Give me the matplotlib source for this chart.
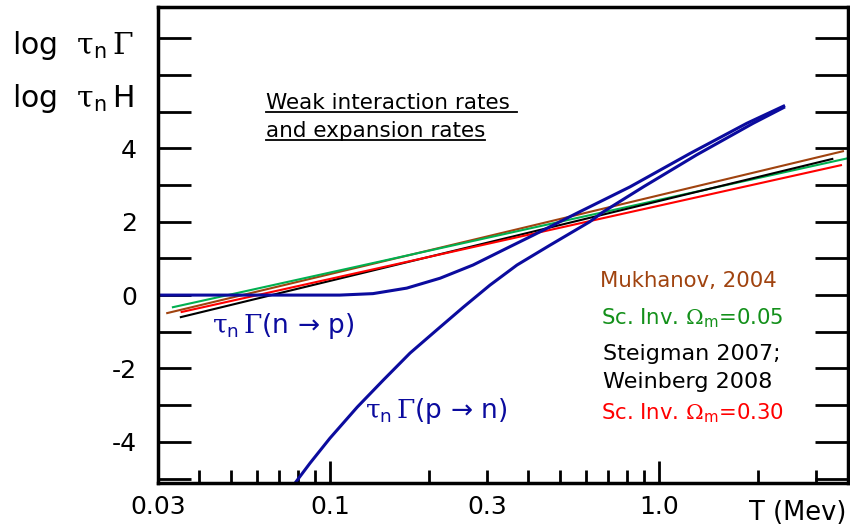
import matplotlib
matplotlib.use('Agg')
import matplotlib.pyplot as plt
from matplotlib.ticker import FixedLocator, FuncFormatter
from matplotlib.lines import Line2D

plt.rcParams['font.family'] = ['DejaVu Sans']
plt.rcParams['mathtext.fontset'] = 'custom'
plt.rcParams['mathtext.rm'] = 'DejaVu Serif'
plt.rcParams['mathtext.it'] = 'DejaVu Serif:italic'
plt.rcParams['mathtext.sf'] = 'DejaVu Sans'

# weak rates: T (MeV) and log(tau_n Gamma)
t_np = [0.03, 0.107, 0.135, 0.171, 0.216, 0.272, 0.345, 0.414, 0.562,
        0.816, 1.242, 1.846, 2.39]
g_np = [0.0, 0.0, 0.04, 0.19, 0.46, 0.82, 1.28, 1.63, 2.23,
        2.95, 3.86, 4.68, 5.15]

t_pn = [0.0783, 0.0869, 0.0999, 0.121, 0.145, 0.175, 0.211, 0.254, 0.306,
        0.370, 0.466, 0.616, 0.677, 0.896, 1.30, 1.93, 2.39]
g_pn = [-5.12, -4.58, -3.90, -3.05, -2.32, -1.58, -0.95, -0.33, 0.27,
        0.82, 1.36, 2.00, 2.27, 2.95, 3.82, 4.68, 5.11]

# expansion rates (straight in log-log): end points T and log(tau_n H)
t_muk = [0.0320, 3.62]
h_muk = [-0.49, 3.92]
t_sc05 = [0.0333, 3.75]
h_sc05 = [-0.33, 3.73]
t_stw = [0.0352, 3.36]
h_stw = [-0.60, 3.71]
t_sc30 = [0.0354, 3.57]
h_sc30 = [-0.46, 3.54]

x_major = [0.1, 1.0]
x_minor = [0.03, 0.04, 0.05, 0.06, 0.07, 0.08, 0.09,
           0.2, 0.3, 0.4, 0.5, 0.6, 0.7, 0.8, 0.9, 2.0, 3.0]
x_minor_labels = {0.03: '0.03', 0.3: '0.3'}
y_ticks = list(range(-5, 8))
y_labels = [-4, -2, 0, 2, 4]

BLUE = '#0b0b9e'
BROWN = '#a0430f'
GREEN = '#00b050'
GREEN_TXT = '#13901a'
RED = '#ff0000'

fig = plt.figure(figsize=(8.5, 5.27), dpi=100)
ax = fig.add_axes([158 / 850, 1 - 483 / 527, 690 / 850, 476 / 527])

ax.plot(t_muk, h_muk, color=BROWN, lw=1.5)
ax.plot(t_sc05, h_sc05, color=GREEN, lw=1.5)
ax.plot(t_stw, h_stw, color='black', lw=1.5)
ax.plot(t_sc30, h_sc30, color=RED, lw=1.5)
ax.plot(t_np, g_np, color=BLUE, lw=2.2)
ax.plot(t_pn, g_pn, color=BLUE, lw=2.2)

ax.set_xscale('log')
ax.set_xlim(0.03, 3.75)
ax.set_ylim(-5.12, 7.85)

ax.xaxis.set_major_locator(FixedLocator(x_major))
ax.xaxis.set_major_formatter(FuncFormatter(lambda v, p: '%.1f' % v))
ax.xaxis.set_minor_locator(FixedLocator(x_minor))
ax.xaxis.set_minor_formatter(FuncFormatter(
    lambda v, p: next((s for k, s in x_minor_labels.items() if abs(k - v) < 1e-9), '')))
ax.yaxis.set_major_locator(FixedLocator(y_ticks))
ax.yaxis.set_major_formatter(FuncFormatter(
    lambda v, p: ('%d' % v) if int(round(v)) in y_labels else ''))

ax.tick_params(axis='x', which='major', direction='in', length=16, width=2,
               labelsize=18, pad=9, top=False)
ax.tick_params(axis='x', which='minor', direction='in', length=9.5, width=2,
               labelsize=18, pad=9, top=False)
ax.tick_params(axis='y', which='major', direction='in', length=24, width=2,
               labelsize=18, pad=15, left=True, right=True)
for s in ax.spines.values():
    s.set_linewidth(2.5)

fig.text(846 / 850, 1 - 520 / 527, 'T (Mev)', ha='right', va='baseline', fontsize=18.5)

# y axis title, two lines left of the axis
tau = r'$\mathrm{\tau}_{\mathsf{n}}\,$'
fig.text(12 / 850, 1 - 54 / 527, 'log  ' + tau + r'$\mathrm{\Gamma}$', fontsize=21.5,
         ha='left', va='baseline')
fig.text(12 / 850, 1 - 107 / 527, 'log  ' + tau + 'H', fontsize=21.5,
         ha='left', va='baseline')

# curve labels
fig.text(212 / 850, 1 - 333 / 527, tau + r'$\mathrm{\Gamma}$(n → p)', fontsize=19,
         color=BLUE, ha='left', va='baseline')
fig.text(365 / 850, 1 - 418 / 527, tau + r'$\mathrm{\Gamma}$(p → n)', fontsize=19,
         color=BLUE, ha='left', va='baseline')

# underlined heading
heads = [fig.text(266 / 850, 1 - 109 / 527, 'Weak interaction rates ', fontsize=15.5,
                  ha='left', va='baseline'),
         fig.text(266 / 850, 1 - 137 / 527, 'and expansion rates', fontsize=15.5,
                  ha='left', va='baseline')]

# legend-like colored labels
om = r'$\mathrm{\Omega}_{\mathsf{m}}$'
fig.text(600 / 850, 1 - 287 / 527, 'Mukhanov, 2004', fontsize=15.3, color=BROWN,
         ha='left', va='baseline')
fig.text(601 / 850, 1 - 325 / 527, 'Sc. Inv. ' + om + '=0.05', fontsize=15.3,
         color=GREEN_TXT, ha='left', va='baseline')
fig.text(603 / 850, 1 - 360 / 527, 'Steigman 2007;', fontsize=16, color='black',
         ha='left', va='baseline')
fig.text(603 / 850, 1 - 388 / 527, 'Weinberg 2008', fontsize=16, color='black',
         ha='left', va='baseline')
fig.text(601 / 850, 1 - 420 / 527, 'Sc. Inv. ' + om + '=0.30', fontsize=15.3,
         color=RED, ha='left', va='baseline')

fig.canvas.draw()
r = fig.canvas.get_renderer()
for t in heads:
    bb = t.get_window_extent(r).transformed(fig.transFigure.inverted())
    y0 = bb.y0 + 0.002
    fig.add_artist(Line2D([bb.x0, bb.x1], [y0, y0], color='black', lw=1.3))

fig.savefig('out.png', dpi=100)
